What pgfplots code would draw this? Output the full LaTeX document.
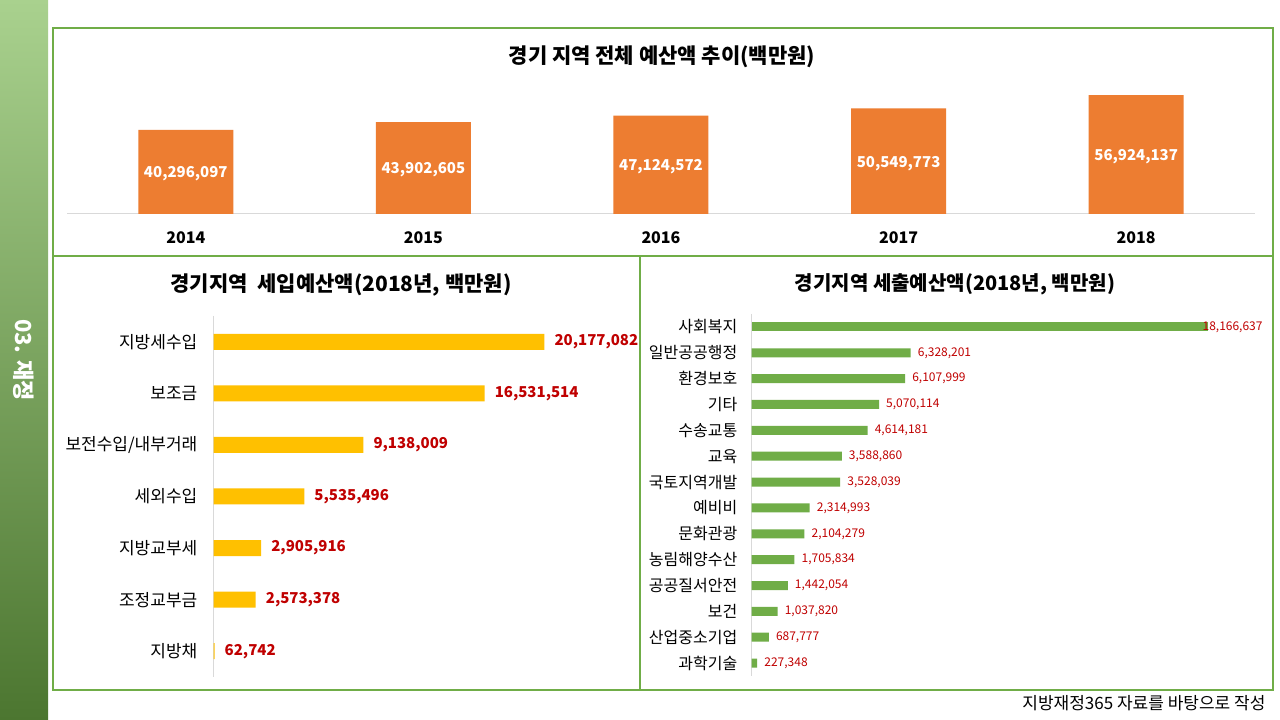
\documentclass[border=0pt]{standalone}
\usepackage{fontspec}
\setmainfont{Noto Sans CJK KR}
\usepackage{pgfplots}
\pgfplotsset{compat=1.18}
\usepackage{pgfplotstable}
\definecolor{barorange}{HTML}{ED7D31}
\definecolor{baryellow}{HTML}{FFC000}
\definecolor{bargreen}{HTML}{70AD47}
\definecolor{framegreen}{HTML}{70AD47}
\definecolor{lblred}{HTML}{C00000}
\definecolor{axisgray}{HTML}{D9D9D9}
\definecolor{sidetop}{HTML}{A9D18E}
\definecolor{sidemid}{HTML}{74AF4B}
\definecolor{sidebot}{HTML}{4C7630}
\newcommand\fs[1]{\fontsize{#1}{#1}\selectfont}

\pgfplotstableread{
x y label
0 40296097 40,296,097
1 43902605 43,902,605
2 47124572 47,124,572
3 50549773 50,549,773
4 56924137 56,924,137
}\totaltable

\pgfplotstableread{
y x label
0 20177082 20,177,082
1 16531514 16,531,514
2 9138009 9,138,009
3 5535496 5,535,496
4 2905916 2,905,916
5 2573378 2,573,378
6 62742 62,742
}\revtable

\pgfplotstableread{
y x label
0 18166637 18,166,637
}\exptop

\pgfplotstableread{
y x label
1 6328201 6,328,201
2 6107999 6,107,999
3 5070114 5,070,114
4 4614181 4,614,181
5 3588860 3,588,860
6 3528039 3,528,039
7 2314993 2,314,993
8 2104279 2,104,279
9 1705834 1,705,834
10 1442054 1,442,054
11 1037820 1,037,820
12 687777 687,777
13 227348 227,348
}\exprest

\begin{document}
\begin{tikzpicture}[x=1pt,y=1pt]
\useasboundingbox (0pt,0pt) rectangle (1280pt,720pt);
\fill[white] (0pt,0pt) rectangle (1280pt,720pt);
\shade[top color=sidetop, middle color=sidemid, bottom color=sidebot] (0pt,0pt) rectangle (48pt,720pt);
\node[rotate=-90, text=white, font=\fs{22}\bfseries] at (24pt,360pt) {03. 재정};

% titles
\node[font=\fs{21}\bfseries] at (662pt,663pt) {경기 지역 전체 예산액 추이(백만원)};
\node[font=\fs{21}\bfseries] at (341pt,435pt) {경기지역\ \ 세입예산액(2018년, 백만원)};
\node[font=\fs{20}\bfseries] at (955pt,436pt) {경기지역 세출예산액(2018년, 백만원)};
\node[font=\fs{17}, anchor=east] at (1269pt,17pt) {지방재정365 자료를 바탕으로 작성};

% top chart
\begin{axis}[at={(67pt,506pt)}, anchor=south west, scale only axis,
  width=1188pt, height=125.4pt,
  xmin=-0.5, xmax=4.5, ymin=0, ymax=60000000,
  axis x line*=bottom, axis y line=none,
  x axis line style={axisgray, line width=1pt},
  xtick={0,1,2,3,4}, xticklabels={2014,2015,2016,2017,2018},
  major tick length=0pt,
  xticklabel style={font=\fs{16}\bfseries, anchor=center, yshift=-24pt},
  clip=false]
\addplot[ybar, bar width=95pt, bar shift=0pt, fill=barorange, draw=none]
  table[x=x, y=y]{\totaltable};
\addplot[only marks, mark=*, mark size=0pt, mark options={draw=none, fill=none},
  nodes near coords, point meta=explicit symbolic,
  nodes near coords style={anchor=center, yshift=-2pt, text=white, font=\fs{15}\bfseries}]
  table[x=x, y expr=\thisrow{y}/2, meta=label]{\totaltable};
\end{axis}

% bottom-left chart
\begin{axis}[at={(213.5pt,404pt)}, anchor=north west, scale only axis,
  width=410pt, height=361pt,
  xmin=0, xmax=25000000, ymin=-0.5, ymax=6.5, y dir=reverse,
  axis x line=none, axis y line*=left,
  y axis line style={axisgray, line width=1pt},
  ytick={0,1,2,3,4,5,6},
  yticklabels={지방세수입,보조금,보전수입/내부거래,세외수입,지방교부세,조정교부금,지방채},
  major tick length=0pt,
  yticklabel style={font=\fs{17}, anchor=east, inner sep=0pt, xshift=-16pt},
  clip=false]
\addplot[xbar, bar width=16pt, bar shift=0pt, fill=baryellow, draw=none,
  nodes near coords, point meta=explicit symbolic,
  nodes near coords style={anchor=west, inner sep=0pt, xshift=10pt, text=lblred, font=\fs{15}\bfseries}]
  table[x=x, y=y, meta=label]{\revtable};
\end{axis}

% bottom-right chart
\begin{axis}[at={(751.5pt,406pt)}, anchor=north west, scale only axis,
  width=503pt, height=362pt,
  xmin=0, xmax=20000000, ymin=-0.5, ymax=13.5, y dir=reverse,
  axis x line=none, axis y line*=left,
  y axis line style={axisgray, line width=1pt},
  ytick={0,1,...,13},
  yticklabels={사회복지,일반공공행정,환경보호,기타,수송교통,교육,국토지역개발,예비비,문화관광,농림해양수산,공공질서안전,보건,산업중소기업,과학기술},
  major tick length=0pt,
  yticklabel style={font=\fs{16}, anchor=east, inner sep=0pt, xshift=-14pt},
  clip=false]
\addplot[xbar, bar width=9pt, bar shift=0pt, fill=bargreen, draw=none,
  nodes near coords, point meta=explicit symbolic,
  nodes near coords style={anchor=west, inner sep=0pt, xshift=-6pt, text=lblred, font=\fs{12}}]
  table[x=x, y=y, meta=label]{\exptop};
\addplot[xbar, bar width=9pt, bar shift=0pt, fill=bargreen, draw=none,
  nodes near coords, point meta=explicit symbolic,
  nodes near coords style={anchor=west, inner sep=0pt, xshift=7pt, text=lblred, font=\fs{12}}]
  table[x=x, y=y, meta=label]{\exprest};
\end{axis}

% frames
\draw[framegreen, line width=1.4pt] (53pt,692pt) rectangle (1273pt,464pt);
\draw[framegreen, line width=1.4pt] (53pt,464pt) rectangle (1273pt,30pt);
\fill[framegreen] (639pt,464pt) rectangle (641pt,30pt);
\end{tikzpicture}
\end{document}
